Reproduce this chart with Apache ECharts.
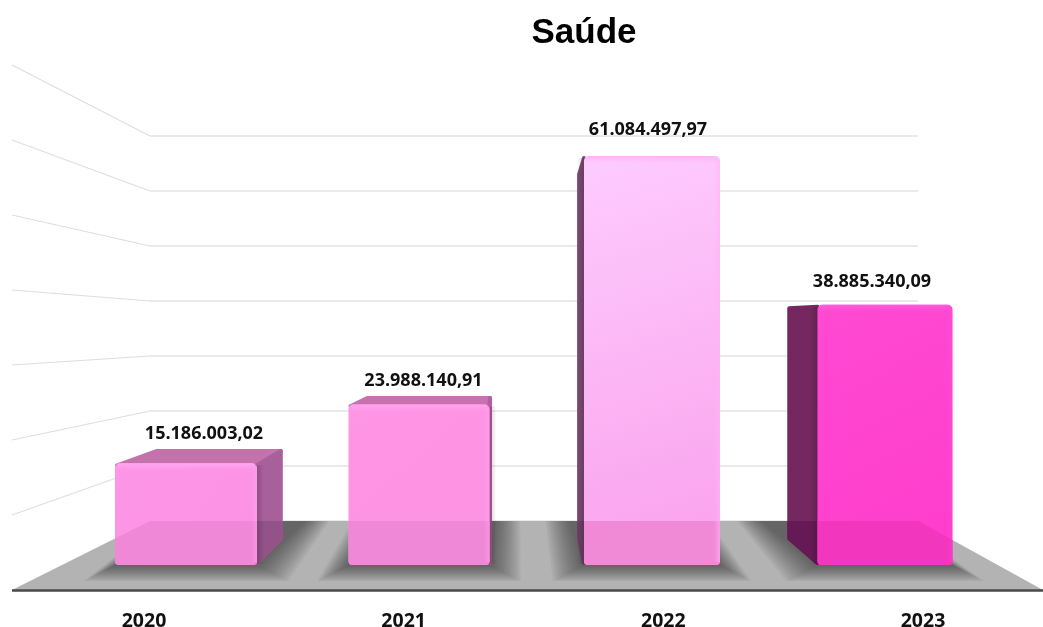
<!DOCTYPE html>
<html><head><meta charset="utf-8">
<style>html,body{margin:0;padding:0;background:#fff}#c{width:1043px;height:627px}</style>
<script src="https://cdn.jsdelivr.net/npm/echarts@6/dist/echarts.min.js"></script>
</head><body><div id="c"></div>
<script>
const titleText = 'Saúde';
const categories = ['2020', '2021', '2022', '2023'];
const values = [15186003.02, 23988140.91, 61084497.97, 38885340.09];
const wallTicks = [10000000, 20000000, 30000000, 40000000, 50000000, 60000000, 70000000];

// styling of each bar: front gradient stops, bevel, side, top, and tones where the floor shows through
const barStyles = [
  {front:['#FD96E6','#FD92E4'], bevel:'#FFA6F0', side:'#A8609A', top:'#C472AC', lowFront:'#EF88D6', lowSide:'#935288', edge:0.45},
  {front:['#FF95E4','#FE92E3'], bevel:'#FFA6F0', side:'#B55F9F', top:'#C771AF', lowFront:'#EF88D6', lowSide:'#A0558C', edge:0.45},
  {front:['#FDCCFE','#FAA0EC'], bevel:'#FFB4F6', side:'#7D4A75', top:'#E9A5DC', lowFront:'#F08AD7', lowSide:'#6D3F66', edge:0.6},
  {front:['#FF4AD2','#FF3CCB'], bevel:'#FF5CD8', side:'#74285F', top:'#74285F', lowFront:'#F236BD', lowSide:'#661A55', edge:0.2}
];
const barPixelWidths = [142, 141, 136, 135];
const labelOffsets = [[18,-29],[4.5,-24],[-4,-26],[-13,-23]];

// perspective of the scene
const VP = {x:515, y:320};
const DEPTH = 0.1;
const FLOOR = {backY:521, backL:150, backR:918, frontY:590, frontL:12, frontR:1043};

function leftEdgeY(x){return FLOOR.backY+(FLOOR.frontY-FLOOR.backY)*(FLOOR.backL-x)/(FLOOR.backL-FLOOR.frontL);}
function rightEdgeY(x){return FLOOR.backY+(FLOOR.frontY-FLOOR.backY)*(x-FLOOR.backR)/(FLOOR.frontR-FLOOR.backR);}
function back(x,y){return [x+(VP.x-x)*DEPTH, y+(VP.y-y)*DEPTH];}
function fmt(v){
  const p=v.toFixed(2).split('.');
  return p[0].replace(/\B(?=(\d{3})+$)/g,'.')+','+p[1];
}
function floorPart(xl,xr){
  const b=[];
  if(xl<FLOOR.backL){b.push([xl,leftEdgeY(xl)],[FLOOR.backL,FLOOR.backY]);}else{b.push([xl,FLOOR.backY]);}
  if(xr>FLOOR.backR){b.push([FLOOR.backR,FLOOR.backY],[xr,rightEdgeY(xr)]);}else{b.push([xr,FLOOR.backY]);}
  return b;
}

function renderBar(params,api){
  const i=params.dataIndex, st=barStyles[i];
  const base=api.coord([api.value(0),0]);
  const top=api.coord([api.value(0),api.value(1)]);
  const w=barPixelWidths[i];
  const xl=base[0]-w/2, xr=base[0]+w/2, yb=base[1], yt=top[1];
  const ch=[];
  const poly=(pts,fill,extra)=>ch.push({type:'polygon',shape:{points:pts},style:Object.assign({fill:fill,stroke:fill,lineWidth:1,lineJoin:'round'},extra||{})});
  const sideX = xr<VP.x ? xr : (xl>VP.x ? xl : null);
  // top face, inset so a thick round stroke gives soft corners
  if(yt>VP.y){
    const br=back(xr,yt), bl=back(xl,yt), ins=2;
    const pts=[[xl+ins,yt+ins],[xr-ins,yt+ins],[br[0]-ins,br[1]+ins],[bl[0]+ins,bl[1]+ins]];
    poly(pts,st.top,{lineWidth:ins*2});
  }
  // side face
  if(sideX!==null){
    const a=back(sideX,yt), b=back(sideX,yb);
    const toRight=sideX===xr, dir=toRight?-1:1, ins=2;
    const ai=[a[0]+dir*ins,a[1]+ins], bi=[b[0]+dir*ins,b[1]-ins];
    poly([[sideX,yt+ins],ai,bi,[sideX,yb-ins]],st.side,{lineWidth:ins*2});
    if(yb>FLOOR.backY && b[1]>=FLOOR.backY){
      poly([[sideX,FLOOR.backY+ins],[ai[0],FLOOR.backY+ins],bi,[sideX,yb-ins]],st.lowSide,{lineWidth:ins*2});
    }
    // soft dark seam next to the front face
    ch.push({type:'rect',shape:{x:toRight?sideX:sideX-7,y:yt+2,width:7,height:yb-yt-3},
      style:{fill:new echarts.graphic.LinearGradient(toRight?0:1,0,toRight?1:0,0,[{offset:0,color:'rgba(0,0,0,0.16)'},{offset:1,color:'rgba(0,0,0,0)'}])}});
  }
  // front face
  ch.push({type:'rect',shape:{x:xl,y:yt,width:xr-xl,height:yb-yt,r:[5,5,4,4]},
    style:{fill:new echarts.graphic.LinearGradient(0,0,1,1,[{offset:0,color:st.front[0]},{offset:1,color:st.front[1]}])}});
  // lower part: the floor seen through the bar
  if(yb>FLOOR.backY){
    const edge=floorPart(xl,xr);
    poly([[xl,yb-4]].concat(edge,[[xr,yb-4]]),st.lowFront,{lineWidth:0,stroke:null});
    ch.push({type:'rect',shape:{x:xl,y:yb-6,width:xr-xl,height:6,r:[0,0,4,4]},style:{fill:st.lowFront}});
  }
  // bevels
  ch.push({type:'rect',shape:{x:xl+2,y:yt,width:xr-xl-4,height:7,r:[3,3,0,0]},
    style:{fill:new echarts.graphic.LinearGradient(0,0,0,1,[{offset:0,color:st.bevel},{offset:1,color:echarts.color.modifyAlpha(st.bevel,0)}])}});
  ch.push({type:'rect',shape:{x:xr-6,y:yt+3,width:6,height:yb-yt-6},
    style:{fill:new echarts.graphic.LinearGradient(0,0,1,0,[{offset:0,color:echarts.color.modifyAlpha(st.bevel,0)},{offset:1,color:echarts.color.modifyAlpha(st.bevel,st.edge)}])}});
  // value label
  const off=labelOffsets[i];
  ch.push({type:'text',style:{text:fmt(api.value(1)),x:base[0]+off[0],y:yt+off[1],align:'center',verticalAlign:'middle',
    font:'bold 18px "Open Sans"',fill:'#111'}});
  return {type:'group',children:ch};
}

function renderShadow(params,api){
  const base=api.coord([api.value(0),0]);
  const w=barPixelWidths[params.dataIndex];
  const xl=base[0]-w/2, xr=base[0]+w/2, yb=base[1];
  const k=(FLOOR.backY-VP.y)/(yb-VP.y);
  const bl=VP.x+(xl-VP.x)*k, br=VP.x+(xr-VP.x)*k;
  const ch=[];
  [26,24,22,20,18,16,14,12,10,8,6,4,2].forEach(d=>{
    ch.push({type:'polygon',shape:{points:[[bl-d,FLOOR.backY],[br+d,FLOOR.backY],[xr+d*1.2,yb+d*0.62],[xl-d*1.2,yb+d*0.62]]},
      style:{fill:'rgba(40,40,40,0.055)'}});
  });
  return {type:'group',children:ch};
}

function renderFloor(params,api){
  return {type:'group',children:[
    {type:'polygon',shape:{points:[[FLOOR.backL,FLOOR.backY],[FLOOR.backR,FLOOR.backY],[FLOOR.frontR,FLOOR.frontY],[FLOOR.frontL,FLOOR.frontY]]},style:{fill:'#B3B3B3'}},
    {type:'line',shape:{x1:FLOOR.frontL,y1:FLOOR.frontY+0.5,x2:FLOOR.frontR,y2:FLOOR.frontY+0.5},style:{stroke:'#4A4A4A',lineWidth:2.5}}
  ]};
}

function renderWall(params,api){
  const p=api.coord([0,api.value(1)]);
  const rect=params.coordSys;
  const yFront=FLOOR.frontY-(FLOOR.backY-p[1])*(75/55);
  return {type:'line',shape:{x1:rect.x,y1:p[1],x2:FLOOR.frontL,y2:yFront},style:{stroke:'#DEDEDE',lineWidth:1.2}};
}

const chart=echarts.init(document.getElementById('c'),null,{renderer:'canvas'});
const hiddenAxis={axisLine:{show:false},axisTick:{show:false},axisLabel:{show:false}};
chart.setOption({
  animation:false,
  backgroundColor:'#fff',
  title:{text:titleText,left:579,top:28,textAlign:'center',textVerticalAlign:'middle',
    textStyle:{fontFamily:'Liberation Sans',fontWeight:'bold',fontSize:35,color:'#000'}},
  grid:[
    {left:69.5,width:932,top:96.3,height:468.7,outerBoundsMode:'none'},
    {left:150,width:768,top:136,height:385,outerBoundsMode:'none'},
    {left:144,width:779,top:580,height:10,outerBoundsMode:'none'}
  ],
  xAxis:[
    Object.assign({gridIndex:0,type:'category',data:categories},hiddenAxis),
    Object.assign({gridIndex:1,type:'category',data:categories},hiddenAxis),
    {gridIndex:2,type:'category',data:categories,boundaryGap:false,axisLine:{show:false},axisTick:{show:false},
     axisLabel:{margin:21,fontFamily:'Open Sans',fontWeight:'bold',fontSize:19.5,color:'#111'}}
  ],
  yAxis:[
    Object.assign({gridIndex:0,type:'value',min:0,max:70000000,interval:10000000,splitLine:{show:false}},hiddenAxis),
    Object.assign({gridIndex:1,type:'value',min:0,max:70000000,interval:10000000,splitLine:{show:true,lineStyle:{color:'#E3E3E3',width:1.5}}},hiddenAxis),
    Object.assign({gridIndex:2,type:'value',min:0,max:1,splitLine:{show:false}},hiddenAxis)
  ],
  series:[
    {type:'custom',silent:true,xAxisIndex:1,yAxisIndex:1,z:1,renderItem:renderWall,data:wallTicks.map(v=>[0,v])},
    {type:'custom',silent:true,xAxisIndex:1,yAxisIndex:1,z:2,renderItem:renderFloor,data:[[0,0]]},
    {type:'custom',silent:true,xAxisIndex:0,yAxisIndex:0,z:3,renderItem:renderShadow,data:values.map((v,i)=>[i,v])},
    {type:'custom',silent:true,xAxisIndex:0,yAxisIndex:0,z:4,renderItem:renderBar,data:values.map((v,i)=>[i,v])}
  ]
});
</script></body></html>
